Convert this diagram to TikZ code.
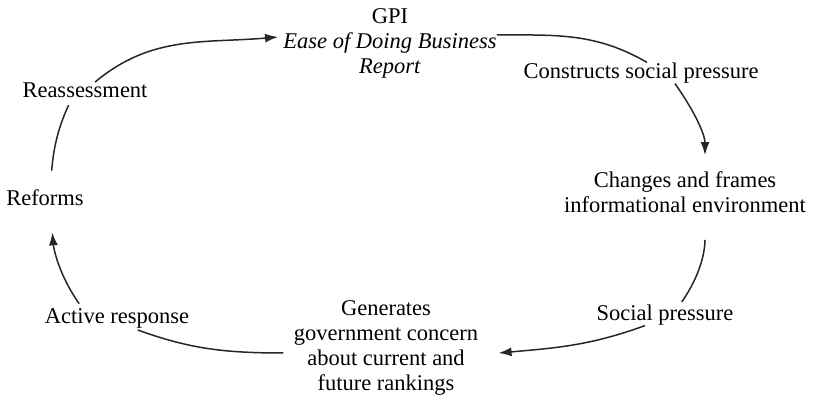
\documentclass[tikz,border=0pt]{standalone}
\usepackage{fontspec}
\setmainfont{Liberation Serif}
\usepackage{tikz}
\usetikzlibrary{arrows.meta}
\newcommand{\cycArrow}{{Latex[length=6.5pt, width=4.5pt]}}

\begin{document}
\begin{tikzpicture}[x=0.5pt, y=0.5pt, font=\fontsize{11.25}{12.5}\selectfont,
	every node/.style={align=center, inner sep=0pt},
	link/.style={line width=0.75pt, black!85}]
	\useasboundingbox (0,0) rectangle (813,405);
	
	\node (gpi)  at (390,362) {GPI\\\textit{Ease of Doing Business}\\\textit{Report}};
	\node (cons) at (641,332) {Constructs social pressure};
	\node (chg)  at (685,213) {Changes and frames\\informational environment};
	\node (socp) at (665,90)  {Social pressure};
	\node (gen)  at (386,57)  {Generates\\government concern\\about current and\\future rankings};
	\node (act)  at (117,87)  {Active response};
	\node (ref)  at (45,207)  {Reforms};
	\node (reas) at (85,315)  {Reassessment};
	
	\draw[link, shorten <=9.5pt, shorten >=4pt] ([xshift=2.5pt]ref.north) to[out=85, in=245] ([xshift=-6.5pt]reas.south);
	\draw[link, -\cycArrow] ([xshift=5pt]reas.north) to[out=40, in=185] ([shift={(-2.5pt,3pt)}]gpi.west);
	\draw[link] ([yshift=4pt]gpi.east) to[out=0, in=150] ([xshift=3pt]cons.north);
	\draw[link, -\cycArrow, shorten >=8pt] ([xshift=17pt]cons.south) to[out=-55, in=90] ([xshift=10pt]chg.north);
	\draw[link, shorten <=13.5pt, shorten >=1.5pt] ([xshift=10pt]chg.south) to[out=-90, in=55] ([xshift=7.5pt]socp.north);
	\draw[link, -\cycArrow] ([xshift=-10pt]socp.south) to[out=200, in=5] ([shift={(10pt,-2.5pt)}]gen.east);
	\draw[link, shorten >=2.5pt] ([shift={(-5pt,-2.5pt)}]gen.west) to[out=180, in=-20] ([xshift=8pt]act.south);
	\draw[link, -\cycArrow, shorten <=2.5pt, shorten >=13pt] ([xshift=-17.5pt]act.north) to[out=125, in=-85] ([xshift=2.5pt]ref.south);
\end{tikzpicture}
\end{document}
